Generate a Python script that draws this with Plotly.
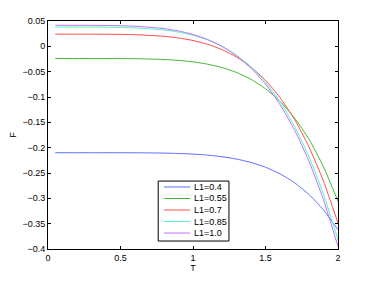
import plotly.graph_objects as go

T = [0.05, 0.2, 0.4, 0.6, 0.8, 0.9, 1.0, 1.1, 1.2, 1.3, 1.4, 1.5, 1.6, 1.7, 1.8, 1.9, 2.0]

F_04 = [-0.210, -0.210, -0.210, -0.2101, -0.2107, -0.2115, -0.2127, -0.2147, -0.2179, -0.2225,
        -0.2292, -0.2386, -0.2517, -0.2692, -0.2925, -0.3229, -0.362]
F_055 = [-0.024, -0.024, -0.024, -0.0244, -0.026, -0.0278, -0.0307, -0.0352, -0.0419, -0.0516,
         -0.0651, -0.0837, -0.1085, -0.1413, -0.1836, -0.2378, -0.306]
F_07 = [0.024, 0.024, 0.0239, 0.023, 0.0198, 0.0165, 0.0115, 0.0041, -0.0065, -0.0211,
        -0.0409, -0.0670, -0.1011, -0.1442, -0.1987, -0.2662, -0.349]
F_085 = [0.038, 0.038, 0.0378, 0.0365, 0.0323, 0.0282, 0.0218, 0.0127, 0.0000, -0.0174,
         -0.0405, -0.0707, -0.1091, -0.1577, -0.2180, -0.2921, -0.382]
F_10 = [0.0415, 0.0415, 0.0412, 0.0398, 0.0350, 0.0304, 0.0235, 0.0136, -0.0001, -0.0187,
        -0.0432, -0.0747, -0.1150, -0.1650, -0.2270, -0.3030, -0.395]

names = ["L1=0.4", "L1=0.55", "L1=0.7", "L1=0.85", "L1=1.0"]
series = [F_04, F_055, F_07, F_085, F_10]
colors = ["#5f6fff", "#44b833", "#ff4d4d", "#55f5c0", "#c070ff"]

x_ticks = [0, 0.5, 1, 1.5, 2]
x_tick_text = ["0", "0.5", "1", "1.5", "2"]
y_ticks = [0.05, 0, -0.05, -0.1, -0.15, -0.2, -0.25, -0.3, -0.35, -0.4]
y_tick_text = ["0.05", "0", "\u22120.05", "\u22120.1", "\u22120.15", "\u22120.2", "\u22120.25",
               "\u22120.3", "\u22120.35", "\u22120.4"]

FONT = "Liberation Sans, Arial, Helvetica"

fig = go.Figure()
for name, ys, c in zip(names, series, colors):
    fig.add_trace(go.Scatter(x=T, y=ys, mode="lines", name=name, showlegend=False,
                             line=dict(color=c, width=1, shape="spline", smoothing=0.6)))

# Compact MATLAB-style legend box built from shapes and annotations
leg_x0, leg_x1, leg_y0, leg_y1 = 0.380, 0.624, 0.035, 0.298
row_top, row_step = 0.272, 0.0505
line_x0, line_x1, text_x = 0.400, 0.490, 0.497
shapes = [dict(type="rect", xref="paper", yref="paper", x0=leg_x0, x1=leg_x1,
               y0=leg_y0, y1=leg_y1, line=dict(color="black", width=1),
               fillcolor="white", layer="above")]
annotations = []
for i, (name, c) in enumerate(zip(names, colors)):
    yy = row_top - i * row_step
    shapes.append(dict(type="line", xref="paper", yref="paper", x0=line_x0, x1=line_x1,
                       y0=yy, y1=yy, line=dict(color=c, width=1), layer="above"))
    annotations.append(dict(xref="paper", yref="paper", x=text_x, y=yy, text=name,
                            showarrow=False, xanchor="left", yanchor="middle",
                            font=dict(family=FONT, size=9, color="black")))

axis_common = dict(showgrid=False, zeroline=False, showline=True, linecolor="black",
                   linewidth=1, mirror="ticks", ticks="inside", ticklen=3,
                   tickcolor="black", automargin=False,
                   tickfont=dict(family=FONT, size=9, color="black"))
fig.update_layout(
    width=366, height=273,
    margin=dict(l=40, r=36, t=13, b=32, autoexpand=False),
    paper_bgcolor="white", plot_bgcolor="white",
    font=dict(family=FONT, size=9, color="black"),
    xaxis=dict(range=[0, 2], tickvals=x_ticks, ticktext=x_tick_text,
               title=dict(text="T", standoff=2, font=dict(size=9)), **axis_common),
    yaxis=dict(range=[-0.4, 0.05], tickvals=y_ticks, ticktext=y_tick_text,
               title=dict(text="F", standoff=8, font=dict(size=9)), **axis_common),
    shapes=shapes,
    annotations=annotations,
    showlegend=False,
)

fig.write_html("out.html")
